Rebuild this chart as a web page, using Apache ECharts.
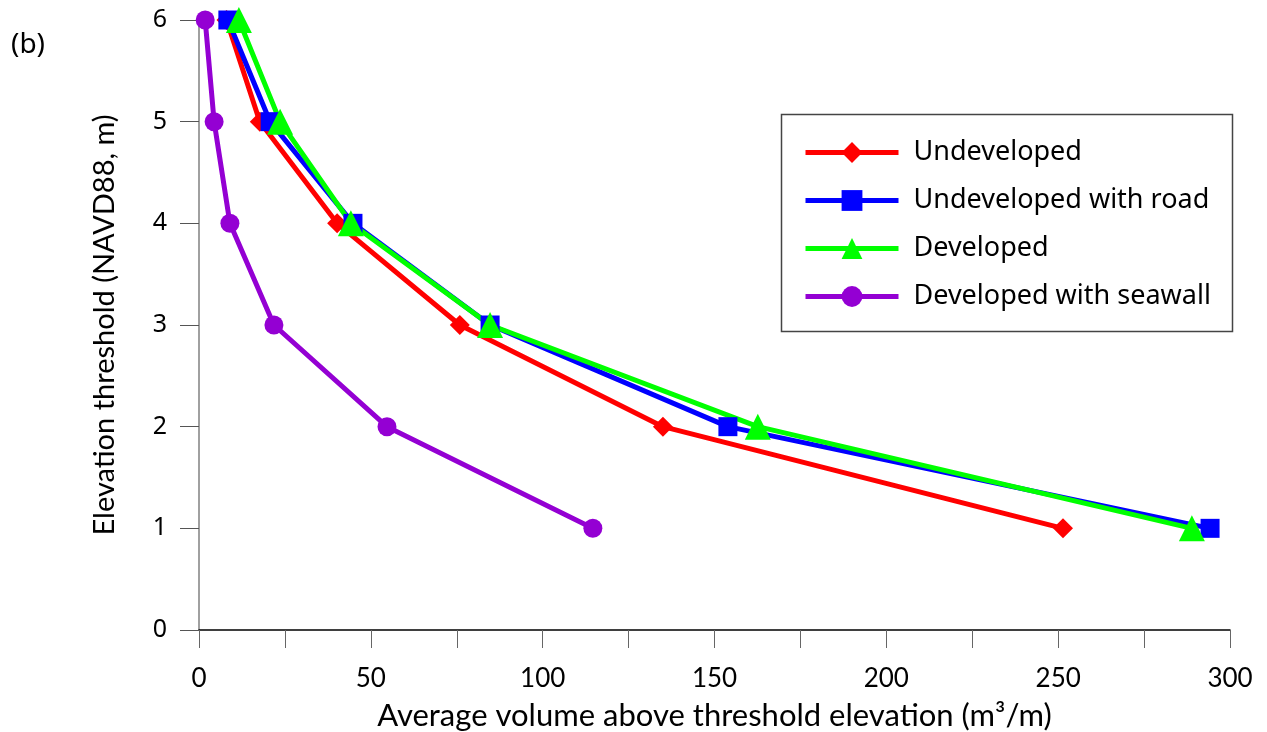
<!DOCTYPE html>
<html>
<head>
<meta charset="utf-8">
<script src="https://cdn.jsdelivr.net/npm/echarts@6/dist/echarts.min.js"></script>
<style>
  html, body { margin: 0; padding: 0; background: #fff; }
  #chart { width: 1267px; height: 732px; }
</style>
</head>
<body>
<div id="chart"></div>
<script>
// elevation thresholds (m, NAVD88)
const elevations = [1, 2, 3, 4, 5, 6];

// average volume above threshold (m3/m), one value per elevation
const undeveloped = [251.4, 135.0, 75.9, 40.2, 17.7, 8.0];
const undevelopedRoad = [294.2, 153.9, 84.7, 44.8, 20.7, 8.4];
const developed = [288.9, 162.6, 84.7, 44.2, 23.6, 11.6];
const developedSeawall = [114.6, 54.7, 21.8, 9.0, 4.4, 1.8];

const xTicks = [0, 50, 100, 150, 200, 250, 300];
const yTicks = [0, 1, 2, 3, 4, 5, 6];

const axisFont = "Lato, 'Liberation Sans', sans-serif";
const legendFont = "'Noto Sans', 'Open Sans', sans-serif";

const pairs = (vals) => vals.map((v, i) => [v, elevations[i]]);

const chart = echarts.init(document.getElementById('chart'));

function lineSeries(name, color, vals, symbol, size) {
  return {
    name: name,
    type: 'line',
    data: pairs(vals),
    symbol: symbol,
    symbolSize: size,
    showAllSymbol: true,
    lineStyle: { color: color, width: 5 },
    itemStyle: { color: color },
    emphasis: { disabled: true },
    animation: false
  };
}

chart.setOption({
  backgroundColor: '#ffffff',
  animation: false,
  grid: { left: 199, right: 37, top: 20, bottom: 102, containLabel: false, outerBoundsMode: 'none' },
  graphic: [
    {
      type: 'text', left: 11, top: 31,
      style: { text: '(b)', font: "28px 'Noto Sans', sans-serif", fill: '#000' }
    },
    {
      type: 'rect', left: 779, top: 112, z: 10,
      shape: { width: 451, height: 217 },
      style: { fill: 'none', stroke: '#444', lineWidth: 1.5 }
    }
  ],
  legend: {
    orient: 'vertical',
    left: 798,
    top: 134,
    itemWidth: 93,
    itemHeight: 26,
    itemGap: 21,
    lineStyle: { width: 5 },
    textStyle: { fontFamily: legendFont, fontSize: 27, color: '#000', padding: [0, 0, 0, 10], lineHeight: 26 },
    data: ['Undeveloped', 'Undeveloped with road', 'Developed', 'Developed with seawall']
  },
  xAxis: {
    type: 'value',
    min: 0,
    max: 300,
    interval: 25,
    name: 'Average volume above threshold elevation (m³/m)',
    nameLocation: 'middle',
    nameGap: 70,
    nameTextStyle: { fontFamily: axisFont, fontSize: 31, color: '#000' },
    axisLine: { show: true, lineStyle: { color: '#000', width: 1.5 } },
    axisTick: { show: true, inside: false, length: 18, lineStyle: { color: '#666', width: 1 } },
    axisLabel: {
      margin: 36,
      fontFamily: axisFont,
      fontSize: 26,
      color: '#000',
      formatter: (v) => (xTicks.includes(v) ? String(v) : '')
    },
    splitLine: { show: false }
  },
  yAxis: {
    type: 'value',
    min: 0,
    max: 6,
    interval: 1,
    name: 'Elevation threshold (NAVD88, m)',
    nameLocation: 'middle',
    nameGap: 80,
    nameTextStyle: { fontFamily: axisFont, fontSize: 29, color: '#000' },
    axisLine: { show: true, lineStyle: { color: '#808080', width: 1.5 } },
    axisTick: { show: true, inside: false, length: 19, lineStyle: { color: '#555', width: 1 } },
    axisLabel: {
      margin: 32,
      fontFamily: legendFont,
      fontSize: 25,
      color: '#000',
      formatter: (v) => (yTicks.includes(v) ? String(v) : '')
    },
    splitLine: { show: false }
  },
  series: [
    lineSeries('Undeveloped', '#ff0000', undeveloped, 'diamond', 20),
    lineSeries('Undeveloped with road', '#0000ff', undevelopedRoad, 'rect', 19),
    lineSeries('Developed', '#00ff00', developed, 'triangle', 26),
    lineSeries('Developed with seawall', '#9400d3', developedSeawall, 'circle', 19)
  ]
});
</script>
</body>
</html>
